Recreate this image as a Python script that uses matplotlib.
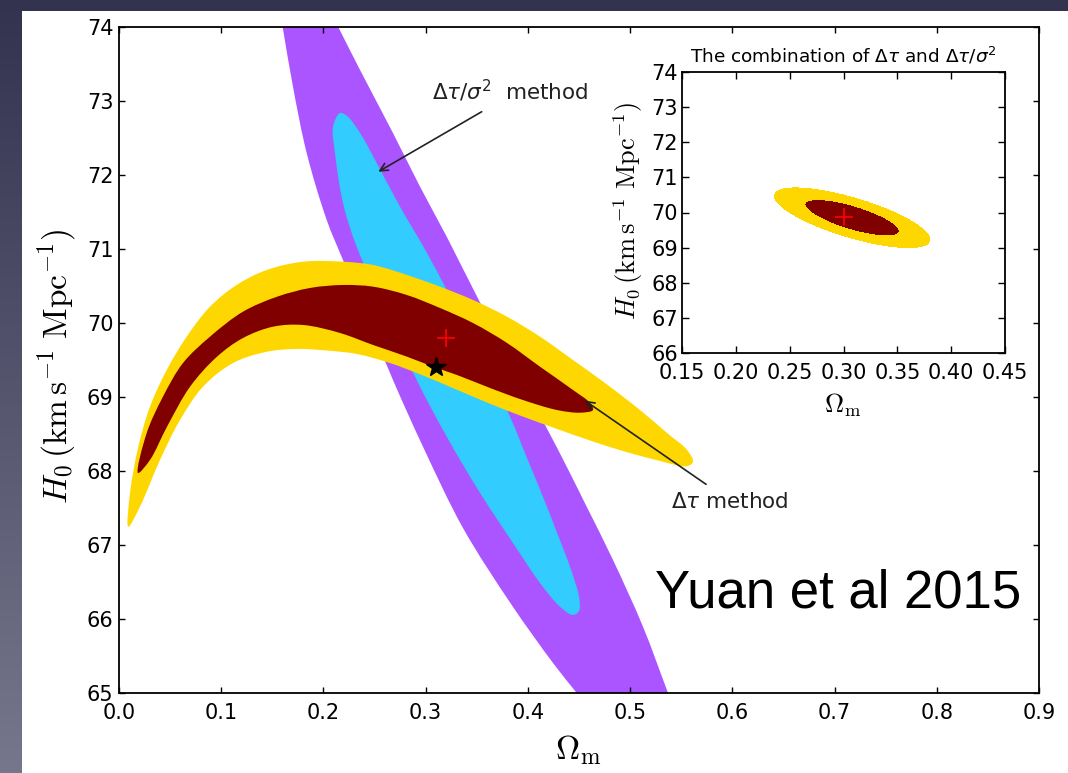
import numpy as np
import matplotlib
matplotlib.use("Agg")
import matplotlib.pyplot as plt
from matplotlib.path import Path
from matplotlib.patches import PathPatch, Rectangle

plt.rcParams['font.family'] = ['DejaVu Sans']
plt.rcParams['mathtext.fontset'] = 'dejavusans'

# ---------------------------------------------------------------------------
# Confidence-region outlines (Omega_m, H0) for the two lensing-time methods
# ---------------------------------------------------------------------------
# Delta tau / sigma^2 method, 2-sigma band: left edge (top -> bottom)
band2_left_om = [0.1601, 0.1702, 0.1836, 0.2032, 0.2191, 0.2436, 0.2680,
                 0.2974, 0.3365, 0.3835, 0.4246, 0.4478]
band2_left_h0 = [74.000, 73.193, 72.297, 71.392, 70.851, 70.041, 69.230,
                 68.328, 67.230, 66.203, 65.405, 65.000]
# ... and right edge (bottom -> top)
band2_right_om = [0.5371, 0.5126, 0.4833, 0.4575, 0.4380, 0.4177, 0.3747,
                  0.3336, 0.3206, 0.2945, 0.2680, 0.2358, 0.2145]
band2_right_h0 = [65.000, 65.896, 66.797, 67.518, 68.058, 68.599, 69.703,
                  70.811, 71.166, 71.842, 72.568, 73.419, 74.000]

# Delta tau / sigma^2 method, 1-sigma region
band1_om = [0.2162, 0.2094, 0.2113, 0.2191, 0.2325, 0.2612, 0.2912, 0.3206,
            0.3532, 0.3854, 0.4119, 0.4314, 0.4441, 0.4500, 0.4502, 0.4423,
            0.4294, 0.4148, 0.3991, 0.3825, 0.3424, 0.3013, 0.2749, 0.2521,
            0.2358, 0.2231]
band1_h0 = [72.838, 72.653, 72.297, 71.622, 71.031, 70.135, 69.230, 68.464,
            67.703, 67.027, 66.486, 66.166, 66.054, 66.110, 66.284, 66.662,
            67.135, 67.649, 68.176, 68.734, 69.865, 70.946, 71.572, 72.162,
            72.568, 72.797]

# Delta tau method, 2-sigma region (banana)
arc2_om = [0.0091, 0.0108, 0.0189, 0.0303, 0.0467, 0.0662, 0.0890, 0.1151,
           0.1445, 0.1800, 0.2191, 0.2485, 0.2817, 0.3140, 0.3463, 0.3796,
           0.4119, 0.4441, 0.4774, 0.5097, 0.5361, 0.5557, 0.5615,
           0.5557, 0.5263, 0.4931, 0.4608, 0.4285, 0.3952, 0.3629, 0.3307,
           0.2974, 0.2651, 0.2328, 0.2035, 0.1741, 0.1448, 0.1115, 0.0822,
           0.0597, 0.0401, 0.0205]
arc2_h0 = [67.247, 67.703, 68.328, 68.869, 69.365, 69.815, 70.220, 70.514,
           70.716, 70.828, 70.828, 70.784, 70.649, 70.491, 70.311, 70.085,
           69.815, 69.500, 69.169, 68.824, 68.514, 68.284, 68.126,
           68.065, 68.146, 68.270, 68.412, 68.568, 68.735, 68.909, 69.097,
           69.291, 69.459, 69.581, 69.628, 69.649, 69.612, 69.459, 69.139,
           68.689, 68.149, 67.518]

# Delta tau method, 1-sigma region
arc1_om = [0.0186, 0.0271, 0.0430, 0.0626, 0.0890, 0.1213, 0.1546, 0.1868,
           0.2191, 0.2485, 0.2817, 0.3140, 0.3463, 0.3796, 0.4119, 0.4441,
           0.4608, 0.4637,
           0.4510, 0.4285, 0.3952, 0.3629, 0.3307, 0.3072, 0.2817, 0.2485,
           0.2162, 0.1800, 0.1507, 0.1213, 0.0959, 0.0695, 0.0470, 0.0303]
arc1_h0 = [67.973, 68.514, 69.004, 69.459, 69.815, 70.153, 70.355, 70.473,
           70.514, 70.491, 70.378, 70.203, 70.000, 69.730, 69.409, 69.095,
           68.919, 68.824,
           68.788, 68.824, 68.959, 69.122, 69.297, 69.409, 69.545, 69.703,
           69.865, 69.973, 69.950, 69.797, 69.545, 69.139, 68.599, 68.149]

# Best fit of the Delta tau method and fiducial model
best_fit = (0.32, 69.8)
fiducial = (0.31, 69.4)

# Combined constraint (Gaussian approximation)
comb_center = (0.308, 69.85)
comb_sigma = (0.029, 0.342)
comb_rho = -0.73
comb_best = (0.30, 69.88)
chi2_levels = [0.0, 2.30, 6.17]

# Axis ticks
main_xticks = [0.0, 0.1, 0.2, 0.3, 0.4, 0.5, 0.6, 0.7, 0.8, 0.9]
main_xlabels = ['0.0', '0.1', '0.2', '0.3', '0.4', '0.5', '0.6', '0.7', '0.8', '0.9']
main_yticks = [65, 66, 67, 68, 69, 70, 71, 72, 73, 74]
inset_xticks = [0.15, 0.20, 0.25, 0.30, 0.35, 0.40, 0.45]
inset_xlabels = ['0.15', '0.20', '0.25', '0.30', '0.35', '0.40', '0.45']
inset_yticks = [66, 67, 68, 69, 70, 71, 72, 73, 74]

C_PURPLE = '#AA55FF'
C_CYAN = '#33CCFF'
C_GOLD = '#FFD700'
C_MAROON = '#800000'

ylabel = r'$H_0\,(\mathrm{km\,s^{-1}\ Mpc^{-1}})$'
xlabel = r'$\Omega_\mathrm{m}$'


def _cr_segments(ax, xs, ys, closed, alpha=0.5):
    """Centripetal Catmull-Rom curve through the vertices, as cubic Bezier
    segments (control points in data space, spacing measured on screen)."""
    p = np.column_stack([xs, ys]).astype(float)
    q = ax.transData.transform(p)
    n = len(p)
    segs = []
    rng = range(n) if closed else range(n - 1)
    for i in rng:
        if closed:
            i0, i1, i2, i3 = (i - 1) % n, i, (i + 1) % n, (i + 2) % n
            p0, p1, p2, p3 = p[i0], p[i1], p[i2], p[i3]
            q0, q1, q2, q3 = q[i0], q[i1], q[i2], q[i3]
        else:
            p1, p2 = p[i], p[i + 1]
            q1, q2 = q[i], q[i + 1]
            if i == 0:
                p0, q0 = 2 * p1 - p2, 2 * q1 - q2
            else:
                p0, q0 = p[i - 1], q[i - 1]
            if i + 2 > n - 1:
                p3, q3 = 2 * p2 - p1, 2 * q2 - q1
            else:
                p3, q3 = p[i + 2], q[i + 2]
        d1 = max(np.hypot(*(q1 - q0)), 1e-9) ** alpha
        d2 = max(np.hypot(*(q2 - q1)), 1e-9) ** alpha
        d3 = max(np.hypot(*(q3 - q2)), 1e-9) ** alpha
        b1 = (d1 ** 2 * p2 - d2 ** 2 * p0
              + (2 * d1 ** 2 + 3 * d1 * d2 + d2 ** 2) * p1) / (3 * d1 * (d1 + d2))
        b2 = (d3 ** 2 * p1 - d2 ** 2 * p3
              + (2 * d3 ** 2 + 3 * d3 * d2 + d2 ** 2) * p2) / (3 * d3 * (d3 + d2))
        segs.append((b1, b2, p2))
    return p[0], segs


def smooth_closed_path(ax, xs, ys):
    start, segs = _cr_segments(ax, xs, ys, closed=True)
    verts, codes = [start], [Path.MOVETO]
    for b1, b2, e in segs:
        verts += [b1, b2, e]
        codes += [Path.CURVE4] * 3
    verts.append(start)
    codes.append(Path.CLOSEPOLY)
    return Path(verts, codes)


def smooth_band_path(ax, x1, y1, x2, y2):
    """Region bounded by two smooth edges joined with straight lines."""
    s1, segs1 = _cr_segments(ax, x1, y1, closed=False)
    s2, segs2 = _cr_segments(ax, x2, y2, closed=False)
    verts, codes = [s1], [Path.MOVETO]
    for b1, b2, e in segs1:
        verts += [b1, b2, e]
        codes += [Path.CURVE4] * 3
    verts.append(s2)
    codes.append(Path.LINETO)
    for b1, b2, e in segs2:
        verts += [b1, b2, e]
        codes += [Path.CURVE4] * 3
    verts.append(s1)
    codes.append(Path.CLOSEPOLY)
    return Path(verts, codes)


W, H = 1068, 773
fig = plt.figure(figsize=(W / 100, H / 100), dpi=100)

# Slide backdrop with a white panel for the figure
bg = fig.add_axes([0, 0, 1, 1], zorder=-10)
grad = np.linspace(0, 1, 256)[:, None]
top_c = np.array([0x33, 0x33, 0x50]) / 255
bot_c = np.array([0x76, 0x76, 0x8c]) / 255
img = top_c[None, None, :] * (1 - grad[..., None]) + bot_c[None, None, :] * grad[..., None]
bg.imshow(np.repeat(img, 2, axis=1), aspect='auto', extent=[0, 1, 0, 1],
          interpolation='bilinear')
bg.add_patch(Rectangle((22 / W, 0), 1 - 22 / W, 1 - 11 / H,
                       transform=bg.transAxes, facecolor='white',
                       edgecolor='none'))
bg.set_xlim(0, 1)
bg.set_ylim(0, 1)
bg.axis('off')

# ---------------------------------------------------------------------------
# Main panel
# ---------------------------------------------------------------------------
ax = fig.add_axes([119 / W, 1 - 693 / H, 920 / W, 666 / H])
ax.set_xlim(0.0, 0.9)
ax.set_ylim(65, 74)

ax.add_patch(PathPatch(smooth_band_path(ax, band2_left_om, band2_left_h0,
                                        band2_right_om, band2_right_h0),
                       facecolor=C_PURPLE, edgecolor='none', zorder=1))
ax.add_patch(PathPatch(smooth_closed_path(ax, band1_om, band1_h0),
                       facecolor=C_CYAN, edgecolor='none', zorder=2))
ax.add_patch(PathPatch(smooth_closed_path(ax, arc2_om, arc2_h0),
                       facecolor=C_GOLD, edgecolor='none', zorder=3))
ax.add_patch(PathPatch(smooth_closed_path(ax, arc1_om, arc1_h0),
                       facecolor=C_MAROON, edgecolor='none', zorder=4))

ax.plot(*best_fit, marker='+', color='red', ms=13, mew=1.2, ls='none', zorder=6)
ax.plot(*fiducial, marker='*', color='black', ms=15, ls='none', zorder=6)

arrow_kw = dict(arrowstyle='->', lw=1.2, color='#222222', shrinkA=0, shrinkB=0,
                mutation_scale=14)
ax.annotate('', xy=(0.2537, 72.045), xytext=(0.3548, 72.855),
            arrowprops=arrow_kw, zorder=7)
ax.text(0.3058, 73.014, r'$\Delta\tau/\sigma^2$  method', fontsize=15.5,
        ha='left', va='baseline', color='#222222', zorder=7)
ax.annotate('', xy=(0.4559, 68.95), xytext=(0.5743, 67.82),
            arrowprops=arrow_kw, zorder=7)
ax.text(0.540, 67.5, r'$\Delta\tau$ method', fontsize=15.5,
        ha='left', va='baseline', color='#222222', zorder=7)

ax.set_xticks(main_xticks)
ax.set_xticklabels(main_xlabels)
ax.set_yticks(main_yticks)
ax.tick_params(axis='both', which='major', direction='in', top=True, right=True,
               length=4.5, width=1.0, labelsize=15, colors='black')
ax.tick_params(axis='x', pad=7)
ax.tick_params(axis='y', pad=4)
for s in ax.spines.values():
    s.set_linewidth(1.3)

fig.text(57 / W, 1 - 367 / H, ylabel, rotation=90, ha='center', va='center',
         fontsize=24, math_fontfamily='cm')
fig.text(578 / W, 1 - 750 / H, xlabel, ha='center', va='center',
         fontsize=24, math_fontfamily='cm')

fig.text(655 / W, 1 - 607 / H, 'Yuan et al 2015', fontsize=38,
         family='Liberation Sans', ha='left', va='baseline', color='black')

# ---------------------------------------------------------------------------
# Inset: combined constraint
# ---------------------------------------------------------------------------
axi = fig.add_axes([682 / W, 1 - 353 / H, 323 / W, 281 / H], zorder=5)
axi.set_facecolor('white')
om = np.linspace(0.15, 0.45, 600)
h0 = np.linspace(66, 74, 600)
OM, H0 = np.meshgrid(om, h0)
dx = (OM - comb_center[0]) / comb_sigma[0]
dy = (H0 - comb_center[1]) / comb_sigma[1]
chi2 = (dx ** 2 - 2 * comb_rho * dx * dy + dy ** 2) / (1 - comb_rho ** 2)
axi.contourf(OM, H0, chi2, levels=chi2_levels, colors=[C_MAROON, C_GOLD])
axi.plot(*comb_best, marker='+', color='red', ms=13, mew=1.2, ls='none')
axi.set_xlim(0.15, 0.45)
axi.set_ylim(66, 74)
axi.set_xticks(inset_xticks)
axi.set_xticklabels(inset_xlabels)
axi.set_yticks(inset_yticks)
axi.tick_params(axis='both', which='major', direction='in', top=True, right=True,
                length=5, width=1.0, labelsize=15, colors='black')
axi.tick_params(axis='x', pad=7)
axi.tick_params(axis='y', pad=3)
for s in axi.spines.values():
    s.set_linewidth(1.3)
axi.set_title(r'The combination of $\Delta\tau$ and $\Delta\tau/\sigma^2$',
              fontsize=13.3, pad=7)

fig.text(628 / W, 1 - 211 / H, ylabel, rotation=90, ha='center', va='center',
         fontsize=19, math_fontfamily='cm')
fig.text(843 / W, 1 - 405 / H, xlabel, ha='center', va='center',
         fontsize=19, math_fontfamily='cm')

fig.savefig('out.png', dpi=100)
